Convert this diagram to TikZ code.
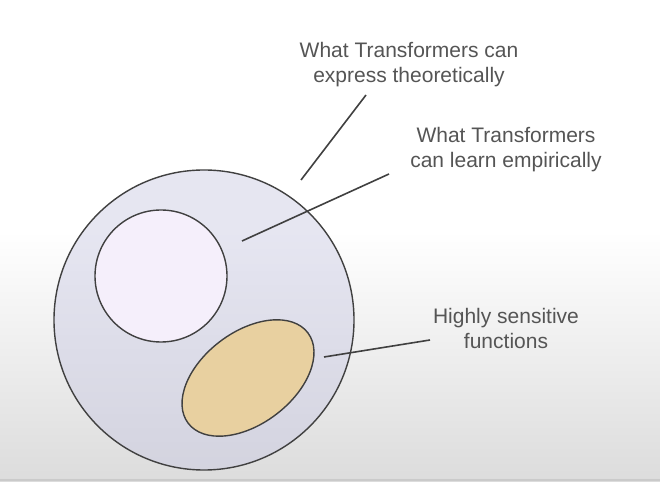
\documentclass[tikz,border=0pt]{standalone}
\usepackage{fontspec}
\setmainfont{Liberation Sans}
\usetikzlibrary{positioning}
\definecolor{inkgray}{HTML}{404040}
\definecolor{txtgray}{HTML}{555555}
\definecolor{outerfill}{RGB}{200,200,226}
\definecolor{innerfill}{HTML}{F5EFFB}
\definecolor{sandfill}{HTML}{E8D0A0}
\definecolor{floorgray}{HTML}{DCDCDC}
\begin{document}
\begin{tikzpicture}[
      x=1pt, y=1pt,
      every node/.style={font=\fontsize{21}{25}\selectfont, text=txtgray},
      lbl/.style={align=center, inner sep=0pt},
      rim/.style={draw=inkgray, line width=1.4pt},
      lead/.style={draw=inkgray, line width=1.6pt},
    ]
    % background
    \fill[white] (0,0) rectangle (660,481);
    \shade[top color=white, bottom color=floorgray] (0,0) rectangle (660,250);
    \fill[floorgray!92!black] (0,0) rectangle (660,2);
    \useasboundingbox (0,0) rectangle (660,481);

    % sets
    \filldraw[rim, fill=outerfill, fill opacity=0.45, draw opacity=1] (204,161) circle[radius=150];
    \filldraw[rim, fill=innerfill] (161,205) circle[radius=66];
    \filldraw[rim, fill=sandfill, rotate around={37:(248,103)}] (248,103) ellipse[x radius=75, y radius=46];

    % labels
    \node[lbl] (expr) at (409,416) {What Transformers can\\express theoretically};
    \node[lbl] (emp)  at (506,331) {What Transformers\\can learn empirically};
    \node[lbl] (sens) at (506,153) {Highly sensitive\\functions};

    % leader lines
    \coordinate (expr-a) at (301,301);
    \coordinate (expr-b) at (366,386);
    \coordinate (emp-a)  at (242,240);
    \coordinate (emp-b)  at (389,307);
    \coordinate (sens-a) at (324,124);
    \coordinate (sens-b) at (430,141);
    \draw[lead] (expr-a) -- (expr-b);
    \draw[lead] (emp-a) -- (emp-b);
    \draw[lead] (sens-a) -- (sens-b);
  \end{tikzpicture}
\end{document}
